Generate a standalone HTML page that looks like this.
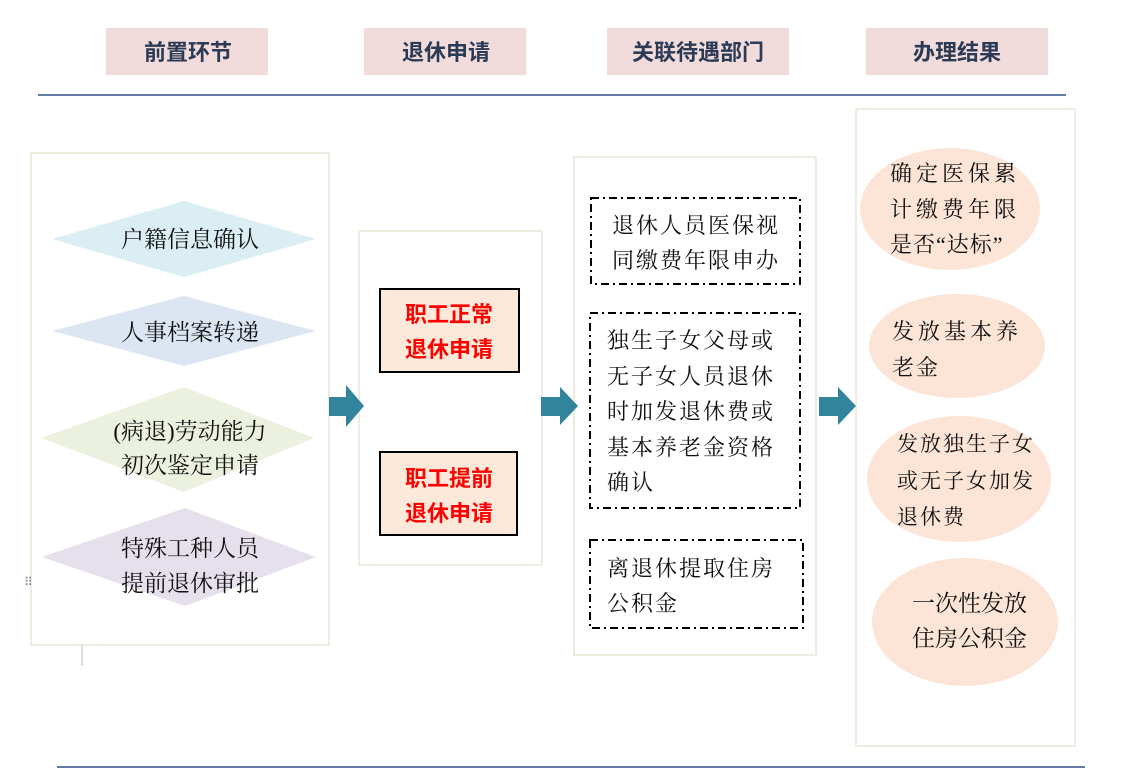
<!DOCTYPE html>
<html><head><meta charset="utf-8"><style>
html,body{margin:0;padding:0;background:#fff;}
svg{display:block}
text{font-family:"Liberation Serif","Noto Serif CJK SC",serif;font-size:21px;fill:#111;}
.h{font-family:"Liberation Sans","Noto Sans CJK SC",sans-serif;font-weight:bold;font-size:22px;fill:#2b3a55;text-anchor:middle}
.r{font-family:"Liberation Sans","Noto Sans CJK SC",sans-serif;font-weight:bold;font-size:22px;fill:#ff0000;text-anchor:middle}
.c{text-anchor:middle;font-size:23px}
.sp{letter-spacing:2px;font-size:22px}
</style></head><body>
<svg width="1122" height="782" viewBox="0 0 1122 782" xmlns="http://www.w3.org/2000/svg">
<rect x="106" y="28" width="162" height="47" fill="#f2dcdb"/>
<rect x="364" y="28" width="162" height="47" fill="#f2dcdb"/>
<rect x="607" y="28" width="182" height="47" fill="#f2dcdb"/>
<rect x="866" y="28" width="182" height="47" fill="#f2dcdb"/>
<text class="h" x="188" y="60">前置环节</text>
<text class="h" x="446" y="60">退休申请</text>
<text class="h" x="698" y="60">关联待遇部门</text>
<text class="h" x="957" y="60">办理结果</text>
<line x1="38" y1="95" x2="1066" y2="95" stroke="#2f4f86" stroke-width="1.5"/>
<line x1="57" y1="767" x2="1085" y2="767" stroke="#2f4f86" stroke-width="1.5"/>

<rect x="31" y="153" width="298" height="492" fill="#fff" stroke="#eeece1" stroke-width="2"/>
<polygon points="52,239 184,201 316,239 184,277" fill="#daeef3"/>
<polygon points="52,331 184,296 316,331 184,366" fill="#dce6f2"/>
<polygon points="41,438 184,387 314,438 184,492" fill="#ebf1de"/>
<polygon points="42,557 185,508 316,557 185,606" fill="#e5e0ec"/>
<text class="c" x="190" y="247">户籍信息确认</text>
<text class="c" x="190" y="340">人事档案转递</text>
<text class="c" x="190" y="439">(病退)劳动能力</text>
<text class="c" x="190" y="473">初次鉴定申请</text>
<text class="c" x="190" y="556">特殊工种人员</text>
<text class="c" x="190" y="591">提前退休审批</text>
<line x1="82" y1="645" x2="82" y2="666" stroke="#bbb" stroke-width="1"/>
<text x="24" y="586" style="font-size:12px;fill:#888">⠿</text>

<rect x="359" y="231" width="183" height="334" fill="#fff" stroke="#eeece1" stroke-width="2"/>
<rect x="380" y="289" width="139" height="83" fill="#fde9d9" stroke="#000" stroke-width="2"/>
<rect x="380" y="452" width="137" height="83" fill="#fde9d9" stroke="#000" stroke-width="2"/>
<text class="r" x="449" y="322">职工正常</text>
<text class="r" x="449" y="357">退休申请</text>
<text class="r" x="449" y="486">职工提前</text>
<text class="r" x="449" y="521">退休申请</text>

<rect x="574" y="157" width="242" height="498" fill="#fff" stroke="#eeece1" stroke-width="2"/>
<g fill="none" stroke="#000" stroke-width="2" stroke-dasharray="8,4,2,4">
<rect x="591" y="198" width="209" height="86"/>
<rect x="590" y="313" width="210" height="195"/>
<rect x="590" y="540" width="213" height="88"/>
</g>
<text x="612" y="233" class="sp">退休人员医保视</text>
<text x="612" y="268" class="sp">同缴费年限申办</text>
<text x="607" y="348" class="sp">独生子女父母或</text>
<text x="607" y="384" class="sp">无子女人员退休</text>
<text x="607" y="419" class="sp">时加发退休费或</text>
<text x="607" y="455" class="sp">基本养老金资格</text>
<text x="607" y="490" class="sp">确认</text>
<text x="607" y="576" class="sp">离退休提取住房</text>
<text x="607" y="611" class="sp">公积金</text>

<rect x="856" y="109" width="219" height="637" fill="#fff" stroke="#eeece1" stroke-width="2"/>
<g fill="#fce4d6">
<ellipse cx="950" cy="209" rx="90" ry="61"/>
<ellipse cx="957" cy="346" rx="88" ry="52"/>
<ellipse cx="959" cy="479" rx="92" ry="63"/>
<ellipse cx="965" cy="622" rx="93" ry="64"/>
</g>
<text x="890" y="181" class="sp" style="letter-spacing:4px">确定医保累</text>
<text x="890" y="217" class="sp" style="letter-spacing:4px">计缴费年限</text>
<text x="890" y="252" class="sp" style="letter-spacing:1px">是否“达标”</text>
<text x="892" y="339" class="sp" style="letter-spacing:4px">发放基本养</text>
<text x="892" y="375" class="sp">老金</text>
<text x="897" y="451" style="letter-spacing:2px;font-size:21px">发放独生子女</text>
<text x="897" y="488" style="letter-spacing:2px;font-size:21px">或无子女加发</text>
<text x="897" y="524" style="letter-spacing:2px;font-size:21px">退休费</text>
<text x="912" y="611" style="font-size:23px">一次性发放</text>
<text x="912" y="646" style="font-size:23px">住房公积金</text>

<polygon points="329,397 346,397 346,385 364,406 346,427 346,416 329,416" fill="#31849b"/>
<polygon points="541,397 560,397 560,387 578,406 560,425 560,416 541,416" fill="#31849b"/>
<polygon points="819,397 838,397 838,387 856,406 838,425 838,416 819,416" fill="#31849b"/>
</svg>
</body></html>
